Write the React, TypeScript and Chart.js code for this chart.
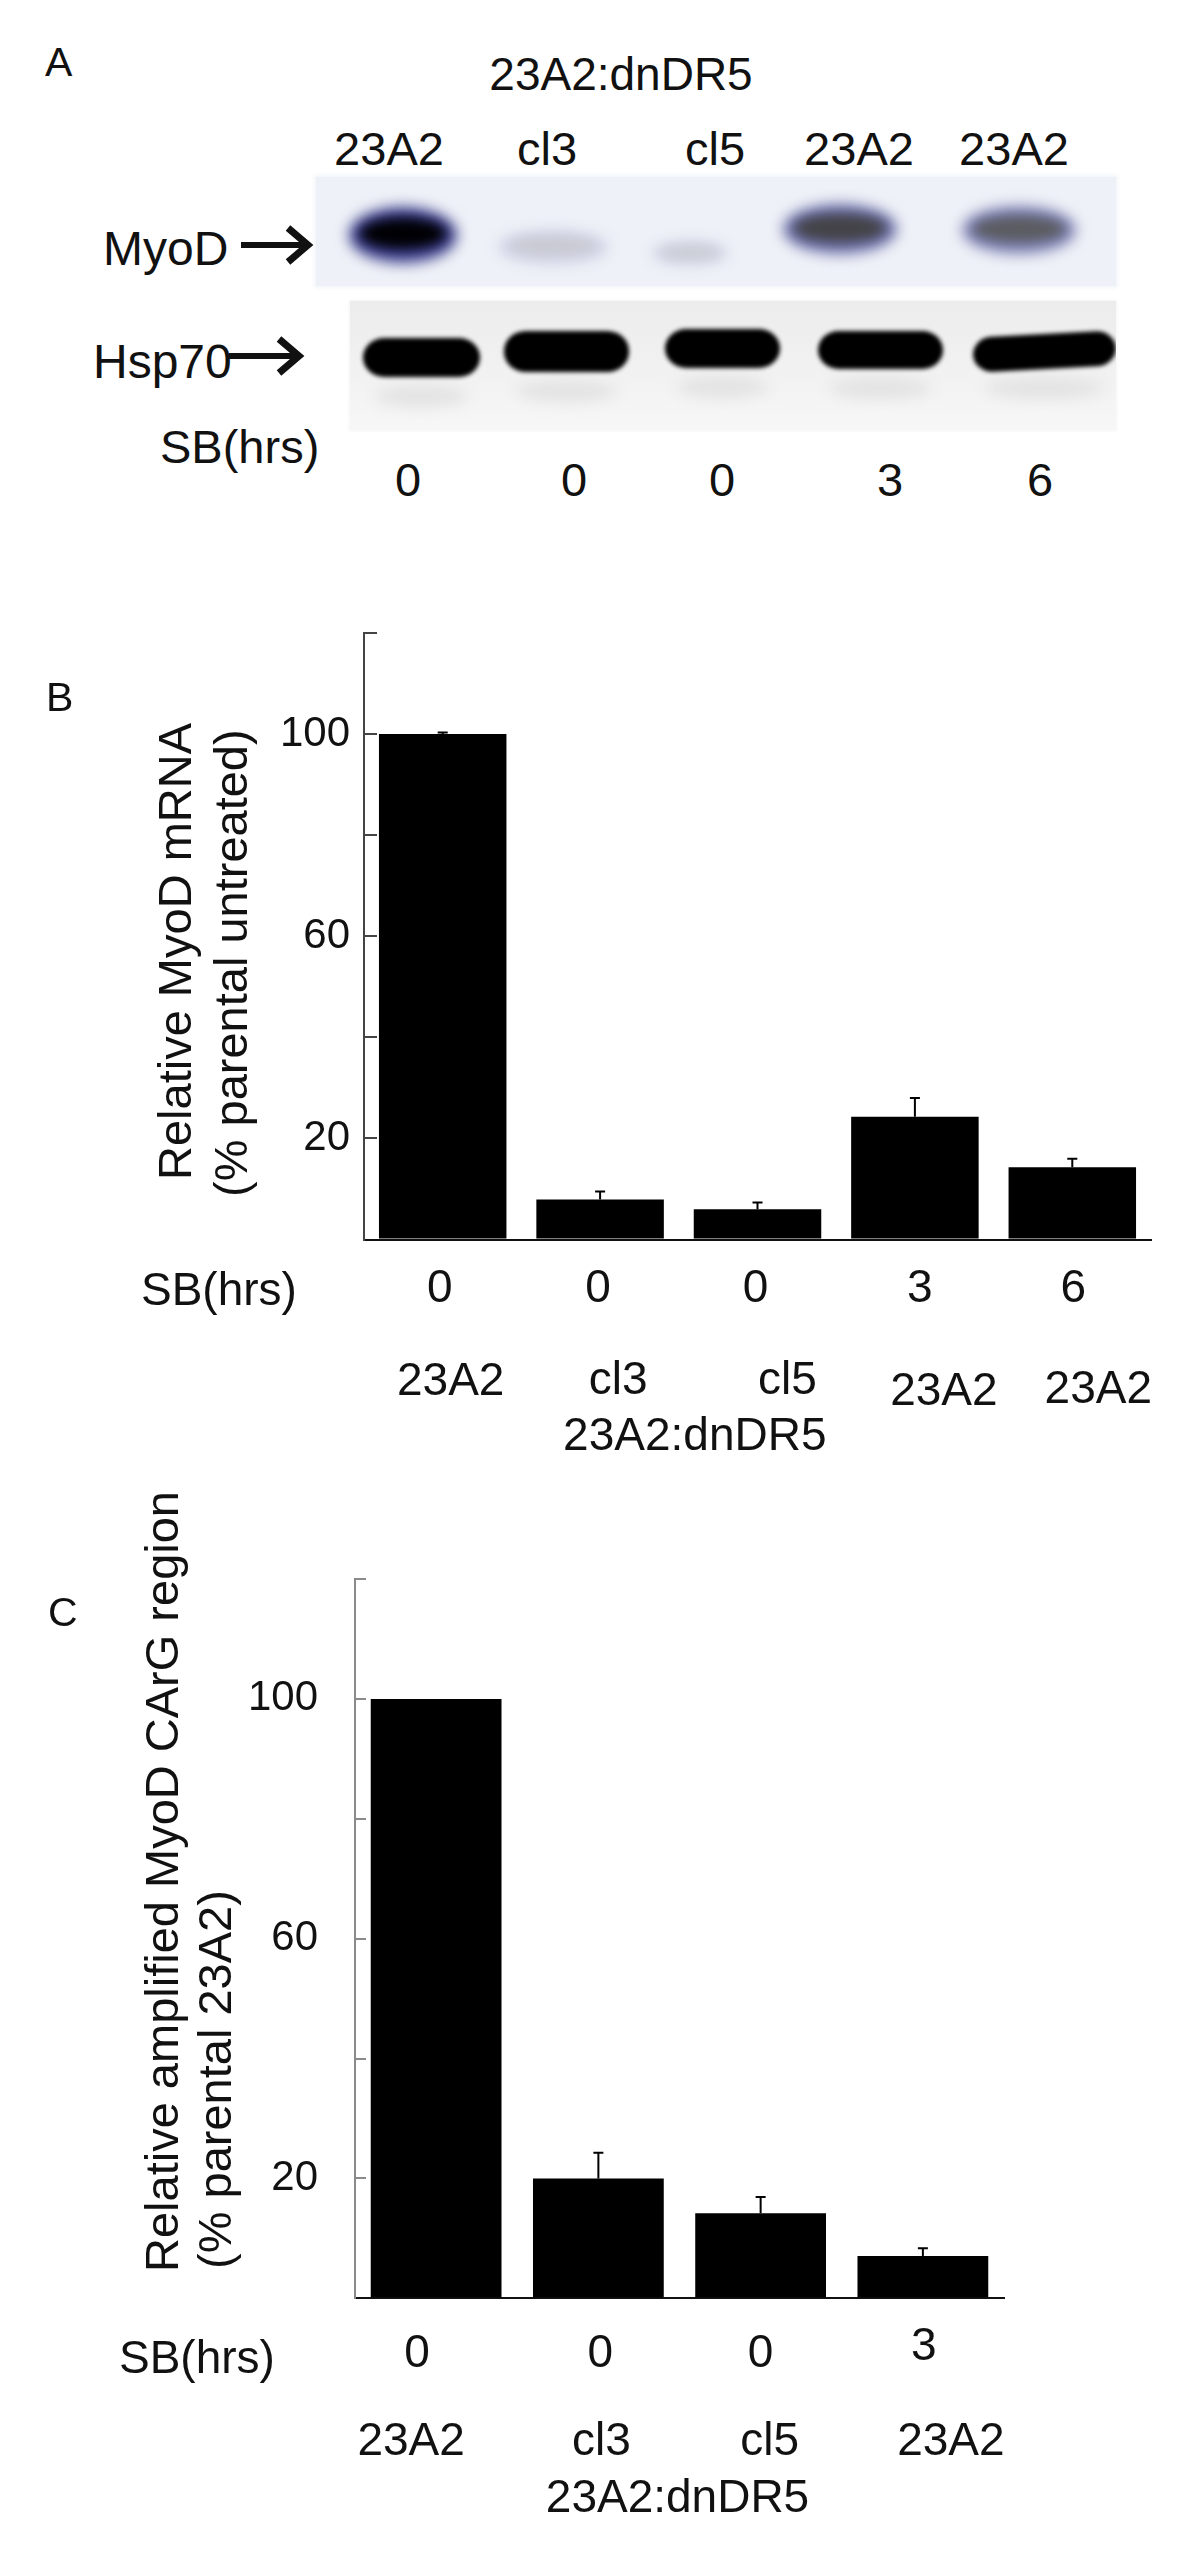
import { useEffect, useRef } from "react"
import { Chart, registerables } from "chart.js"

Chart.register(...registerables)

const FONT = '"Liberation Sans", Arial, Helvetica, sans-serif'

// panel A – western blot
const laneNames = ["23A2", "cl3", "cl5", "23A2", "23A2"]
const laneHours = ["0", "0", "0", "3", "6"]
const myodIntensity = [1.0, 0.16, 0.15, 0.72, 0.62]
const hsp70Intensity = [1, 1, 1, 1, 1]

// panel B – relative MyoD mRNA
const mrnaHours = ["0", "0", "0", "3", "6"]
const mrnaLines = ["23A2", "cl3", "cl5", "23A2", "23A2"]
const mrnaValues = [100, 7.9, 6.0, 24.3, 14.3]
const mrnaErrors = [0.3, 1.6, 1.3, 3.7, 1.7]

// panel C – amplified MyoD CArG region
const cargHours = ["0", "0", "0", "3"]
const cargLines = ["23A2", "cl3", "cl5", "23A2"]
const cargValues = [100, 20, 14.2, 7.05]
const cargErrors = [0, 4.3, 2.7, 1.3]

const yLabelled = [20, 60, 100]
const groupName = "23A2:dnDR5"

// blot layout (page px)
const myodBands = [
  { cx: 403, cy: 235, w: 108, h: 56 },
  { cx: 553, cy: 247, w: 110, h: 34 },
  { cx: 690, cy: 253, w: 76, h: 24 },
  { cx: 840, cy: 229, w: 114, h: 50 },
  { cx: 1019, cy: 230, w: 114, h: 48 },
]
const hspBands = [
  { l: 363, r: 480, t: 338, b: 377 },
  { l: 504, r: 629, t: 331, b: 372 },
  { l: 665, r: 780, t: 329, b: 368 },
  { l: 818, r: 943, t: 331, b: 369 },
  { l: 973, r: 1116, t: 334, b: 369 },
]
const laneLabelX = [389, 547, 715, 859, 1014]
const laneHourX = [408, 574, 722, 890, 1040]

function mix(a: number[], b: number[], t: number) {
  const c = a.map((v, i) => Math.round(v + (b[i] - v) * t))
  return `rgb(${c[0]},${c[1]},${c[2]})`
}

function Txt({ x, base, size = 47, align = "center", children }: any) {
  const style: any = {
    position: "absolute",
    top: base - 0.8465 * size,
    left: x,
    fontSize: size,
    lineHeight: `${size}px`,
    fontFamily: FONT,
    color: "#111",
    whiteSpace: "nowrap",
  }
  if (align === "center") style.transform = "translateX(-50%)"
  return <div style={style}>{children}</div>
}

function BlotPanel() {
  const bg = [238, 241, 248]
  return (
    <div style={{ position: "absolute", left: 0, top: 0, width: 1200, height: 560 }}>
      <Txt x={45} base={77} size={41} align="left">A</Txt>
      <Txt x={621} base={90} size={46}>{groupName}</Txt>
      {laneNames.map((n, i) => (
        <Txt key={i} x={laneLabelX[i]} base={165}>{n}</Txt>
      ))}

      {/* MyoD membrane */}
      <div style={{ position: "absolute", left: 316, top: 177, width: 800, height: 109, background: "#eef1f7", boxShadow: "0 0 4px 2px #f3f5f9", overflow: "hidden" }}>
        {myodBands.map((b, i) => {
          const t = myodIntensity[i]
          return (
            <div key={i}>
              <div style={{ position: "absolute", left: b.cx - b.w / 2 - 316, top: b.cy - b.h / 2 - 177, width: b.w, height: b.h, borderRadius: "50%", background: mix(bg, [60, 62, 140], t), filter: "blur(7px)" }} />
              <div style={{ position: "absolute", left: b.cx - b.w * 0.4 - 316, top: b.cy - b.h * 0.3 - 177, width: b.w * 0.8, height: b.h * 0.55, borderRadius: "50%", background: mix(bg, [0, 0, 4], t), filter: "blur(6px)" }} />
            </div>
          )
        })}
      </div>

      {/* Hsp70 membrane */}
      <div style={{ position: "absolute", left: 350, top: 301, width: 766, height: 129, background: "linear-gradient(#ececec, #f2f2f2 60%, #f7f7f7)", boxShadow: "0 0 3px 1px #f5f5f5", overflow: "hidden" }}>
        {hspBands.map((b, i) => (
          <div key={i}>
            <div style={{ position: "absolute", left: b.l - 350 + 12, top: b.b - 301 + 8, width: b.r - b.l - 24, height: 22, borderRadius: "50%", background: "#e3e3e3", filter: "blur(7px)" }} />
            <div style={{ position: "absolute", left: b.l - 350, top: b.t - 301, width: b.r - b.l, height: b.b - b.t, borderRadius: "22px / 20px", background: mix([240, 240, 240], [0, 0, 0], hsp70Intensity[i]), filter: "blur(2px)", transform: i === 4 ? "rotate(-3deg)" : "none" }} />
          </div>
        ))}
      </div>

      <Txt x={103} base={266} size={48} align="left">MyoD</Txt>
      <Txt x={93} base={379} size={48} align="left">Hsp70</Txt>
      <svg width={1200} height={560} style={{ position: "absolute", left: 0, top: 0 }}>
        <line x1={241} y1={245} x2={306} y2={245} stroke="#111" strokeWidth={6} />
        <polyline points="288,228 308,245 288,262" fill="none" stroke="#111" strokeWidth={7} />
        <line x1={229} y1={356} x2={296} y2={356} stroke="#111" strokeWidth={6} />
        <polyline points="279,339 299,356 279,373" fill="none" stroke="#111" strokeWidth={7} />
      </svg>

      <Txt x={160} base={463} align="left">SB(hrs)</Txt>
      {laneHours.map((h, i) => (
        <Txt key={i} x={laneHourX[i]} base={496}>{h}</Txt>
      ))}
    </div>
  )
}

interface BarPanelProps {
  top: number
  height: number
  area: { left: number; top: number; right: number; bottom: number }
  values: number[]
  errors: number[]
  hours: string[]
  lines: string[]
  barPct: number
  axisColor: string
  tickLen: number
  tickGap: number
  letter: { text: string; x: number; base: number }
  titles: { text: string; x: number; y: number }[]
  sb: { x: number; base: number }
  hourBase: number[]
  hourDx: number[]
  lineBase: number[]
  lineDx: number[]
  group: { base: number; dx: number }
}

function BarPanel(p: BarPanelProps) {
  const ref = useRef<HTMLCanvasElement>(null)

  useEffect(() => {
    const cv = ref.current
    if (!cv) return
    const W = 1200
    const decor = {
      id: "decor",
      afterDatasetsDraw(chart: any) {
        const { ctx } = chart
        const x = chart.scales.x
        const y = chart.scales.y
        ctx.save()
        // error bars
        ctx.strokeStyle = "#000"
        ctx.lineWidth = 2
        p.values.forEach((v, i) => {
          const e = p.errors[i]
          if (!e) return
          const cx = x.getPixelForValue(i)
          const y0 = y.getPixelForValue(v)
          const y1 = y.getPixelForValue(v + e)
          ctx.beginPath()
          ctx.moveTo(cx, y0)
          ctx.lineTo(cx, y1)
          ctx.moveTo(cx - 5, y1)
          ctx.lineTo(cx + 5, y1)
          ctx.stroke()
        })
        ctx.fillStyle = "#111"
        ctx.textBaseline = "alphabetic"
        // panel letter
        ctx.font = `41px ${FONT}`
        ctx.textAlign = "left"
        ctx.fillText(p.letter.text, p.letter.x, p.letter.base - p.top)
        // rows under the axis
        ctx.font = `46px ${FONT}`
        ctx.fillText("SB(hrs)", p.sb.x, p.sb.base - p.top)
        ctx.textAlign = "center"
        p.hours.forEach((h, i) => {
          ctx.fillText(h, x.getPixelForValue(i) + p.hourDx[i], p.hourBase[i] - p.top)
        })
        p.lines.forEach((l, i) => {
          ctx.fillText(l, x.getPixelForValue(i) + p.lineDx[i], p.lineBase[i] - p.top)
        })
        const gx = (x.getPixelForValue(1) + x.getPixelForValue(2)) / 2 + p.group.dx
        ctx.fillText(groupName, gx, p.group.base - p.top)
        // rotated axis title
        ctx.font = `47px ${FONT}`
        ctx.textAlign = "left"
        p.titles.forEach((t) => {
          ctx.save()
          ctx.translate(t.x, t.y - p.top)
          ctx.rotate(-Math.PI / 2)
          ctx.fillText(t.text, 0, 0)
          ctx.restore()
        })
        ctx.restore()
      },
    }

    const chart = new Chart(cv, {
      type: "bar",
      data: {
        labels: p.lines,
        datasets: [
          {
            data: p.values,
            backgroundColor: "#000",
            borderWidth: 0,
            barPercentage: p.barPct,
            categoryPercentage: 1,
          },
        ],
      },
      options: {
        animation: false,
        responsive: false,
        devicePixelRatio: 1,
        layout: {
          padding: { top: p.area.top - p.top, right: W - p.area.right, left: 0, bottom: 0 },
        },
        plugins: { legend: { display: false }, tooltip: { enabled: false } },
        scales: {
          x: {
            grid: { display: false },
            ticks: { display: false },
            border: { display: true, color: "#111", width: 2 },
            afterFit: (s: any) => {
              s.height = p.top + p.height - p.area.bottom
            },
          },
          y: {
            min: 0,
            max: 120,
            ticks: {
              stepSize: 20,
              padding: p.tickGap + p.tickLen,
              color: "#111",
              font: { family: FONT, size: 42 },
              callback: (v: any) => (yLabelled.includes(Number(v)) ? String(v) : ""),
            },
            grid: {
              drawOnChartArea: false,
              drawTicks: true,
              tickLength: -p.tickLen,
              color: p.axisColor,
              lineWidth: 2,
            },
            border: { display: true, color: p.axisColor, width: 2 },
            afterFit: (s: any) => {
              s.width = p.area.left
            },
          },
        },
      } as any,
      plugins: [decor],
    })

    return () => chart.destroy()
  }, [])

  return (
    <canvas
      ref={ref}
      width={1200}
      height={p.height}
      style={{ position: "absolute", left: 0, top: p.top, width: 1200, height: p.height }}
    />
  )
}

export default function App() {
  return (
    <div style={{ position: "absolute", left: 0, top: 0, width: 1200, height: 2554, background: "#fff", overflow: "hidden" }}>
      <BlotPanel />
      <BarPanel
        top={560}
        height={900}
        area={{ left: 364, top: 633, right: 1151, bottom: 1239.5 }}
        values={mrnaValues}
        errors={mrnaErrors}
        hours={mrnaHours}
        lines={mrnaLines}
        barPct={0.81}
        axisColor="#444"
        tickLen={13}
        tickGap={14}
        letter={{ text: "B", x: 46, base: 711 }}
        titles={[
          { text: "Relative MyoD mRNA", x: 191, y: 1180 },
          { text: "(% parental untreated)", x: 247, y: 1197 },
        ]}
        sb={{ x: 141, base: 1305 }}
        hourBase={[1302, 1302, 1302, 1302, 1302]}
        hourDx={[-3, -2, -2, 5, 1]}
        lineBase={[1395, 1394, 1394, 1405, 1403]}
        lineDx={[8, 18, 30, 29, 26]}
        group={{ base: 1450, dx: 16 }}
      />
      <BarPanel
        top={1460}
        height={1094}
        area={{ left: 355, top: 1579, right: 1004, bottom: 2298.3 }}
        values={cargValues}
        errors={cargErrors}
        hours={cargHours}
        lines={cargLines}
        barPct={0.806}
        axisColor="#8a8a8a"
        tickLen={11}
        tickGap={37}
        letter={{ text: "C", x: 48, base: 1626 }}
        titles={[
          { text: "Relative amplified MyoD CArG region", x: 178, y: 2272 },
          { text: "(% parental 23A2)", x: 231, y: 2269 },
        ]}
        sb={{ x: 119, base: 2373 }}
        hourBase={[2367, 2367, 2367, 2360]}
        hourDx={[-19, 2, 0, 1]}
        lineBase={[2455, 2455, 2455, 2455]}
        lineDx={[-25, 3, 9, 28]}
        group={{ base: 2512, dx: -2 }}
      />
    </div>
  )
}
